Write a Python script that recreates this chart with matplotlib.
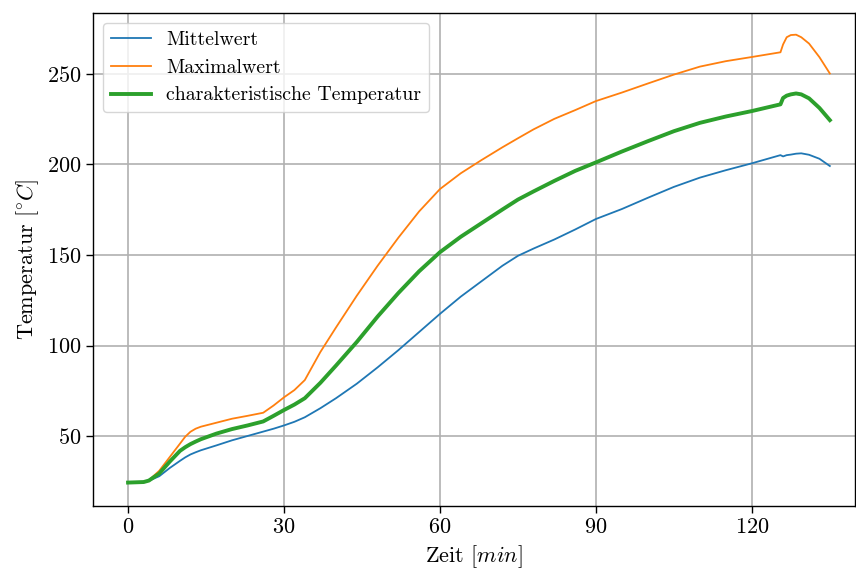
import numpy as np
import matplotlib
matplotlib.use("Agg")
import matplotlib.pyplot as plt

# zeit in minuten
zeit = [0, 3, 4, 6, 8, 10, 11, 12, 13, 14, 17, 20, 23, 26, 28, 30, 32, 34, 37, 40, 44, 48,
        52, 56, 60, 64, 68, 72, 75, 78, 82, 86, 90, 95, 100, 105, 110, 115, 120,
        125.5, 126, 126.7, 127.5, 128.5, 129.5, 131, 133, 135]

mittelwert = [24.5, 24.8, 25.5, 28, 32.5, 36.5, 38.4, 40, 41.2, 42.3, 45, 47.8, 50.2, 52.6, 54.2, 56, 58, 60.5,
              65.5, 71, 79, 88, 97.5, 107.5, 117.5, 127, 135.5, 144, 149.5, 153.5, 158.5,
              164, 169.8, 175.3, 181.5, 187.5, 192.6, 196.7, 200.5,
              205, 204.3, 205, 205.3, 205.8, 206, 205.2, 203, 199]

maximalwert = [24.5, 24.8, 25.8, 31, 38.5, 46, 49.8, 52.5, 54.2, 55.3, 57.5, 59.7, 61.3, 63, 67, 71.5, 75.5, 81,
               96.5, 110, 127.5, 144, 159.5, 174, 186.3, 195, 202.3, 209.3, 214.3, 219.2, 225,
               229.8, 234.8, 239.5, 244.5, 249.4, 253.8, 256.8, 259.1,
               261.7, 266, 270, 271.2, 271.4, 270, 266.5, 259, 250]

char_temp = [24.5, 24.8, 25.6, 29.5, 36, 42, 44, 45.7, 47.1, 48.4, 51.5, 54, 56, 58.2, 61.3, 64.5, 67.5, 71,
             79.5, 89, 102, 116, 129, 141, 151.5, 160, 167.5, 175, 180.5, 185, 190.8,
             196.3, 201, 207, 212.7, 218.2, 222.8, 226.3, 229.3,
             233, 236.5, 237.8, 238.5, 239, 238.5, 236.3, 231, 224.3]

plt.rcParams['font.family'] = 'cmr10'
plt.rcParams['mathtext.fontset'] = 'cm'
plt.rcParams['axes.formatter.use_mathtext'] = True

fig = plt.figure(figsize=(8.56, 5.74), dpi=100)
ax = fig.add_axes([0.1086, 0.1185, 0.89, 0.859])

ax.plot(zeit, mittelwert, color='tab:blue', lw=1.3, label='Mittelwert')
ax.plot(zeit, maximalwert, color='tab:orange', lw=1.3, label='Maximalwert')
ax.plot(zeit, char_temp, color='tab:green', lw=2.8, label='charakteristische Temperatur')

ax.set_xticks([0, 30, 60, 90, 120])
ax.set_yticks([50, 100, 150, 200, 250])
ax.set_xlim(-6.75, 139.8)
ax.set_ylim(11.6, 283.4)
ax.grid(True, color='#b0b0b0', lw=1.2)
for s in ax.spines.values():
    s.set_linewidth(1.0)
ax.tick_params(labelsize=16, width=1.0, length=5)

ax.set_xlabel(r'Zeit $[min]$', fontsize=16)
ax.set_ylabel(r'Temperatur $[{}^{\circ}C]$', fontsize=16)
ax.legend(loc='upper left', fontsize=14.3)

fig.savefig('out.png', dpi=100)
